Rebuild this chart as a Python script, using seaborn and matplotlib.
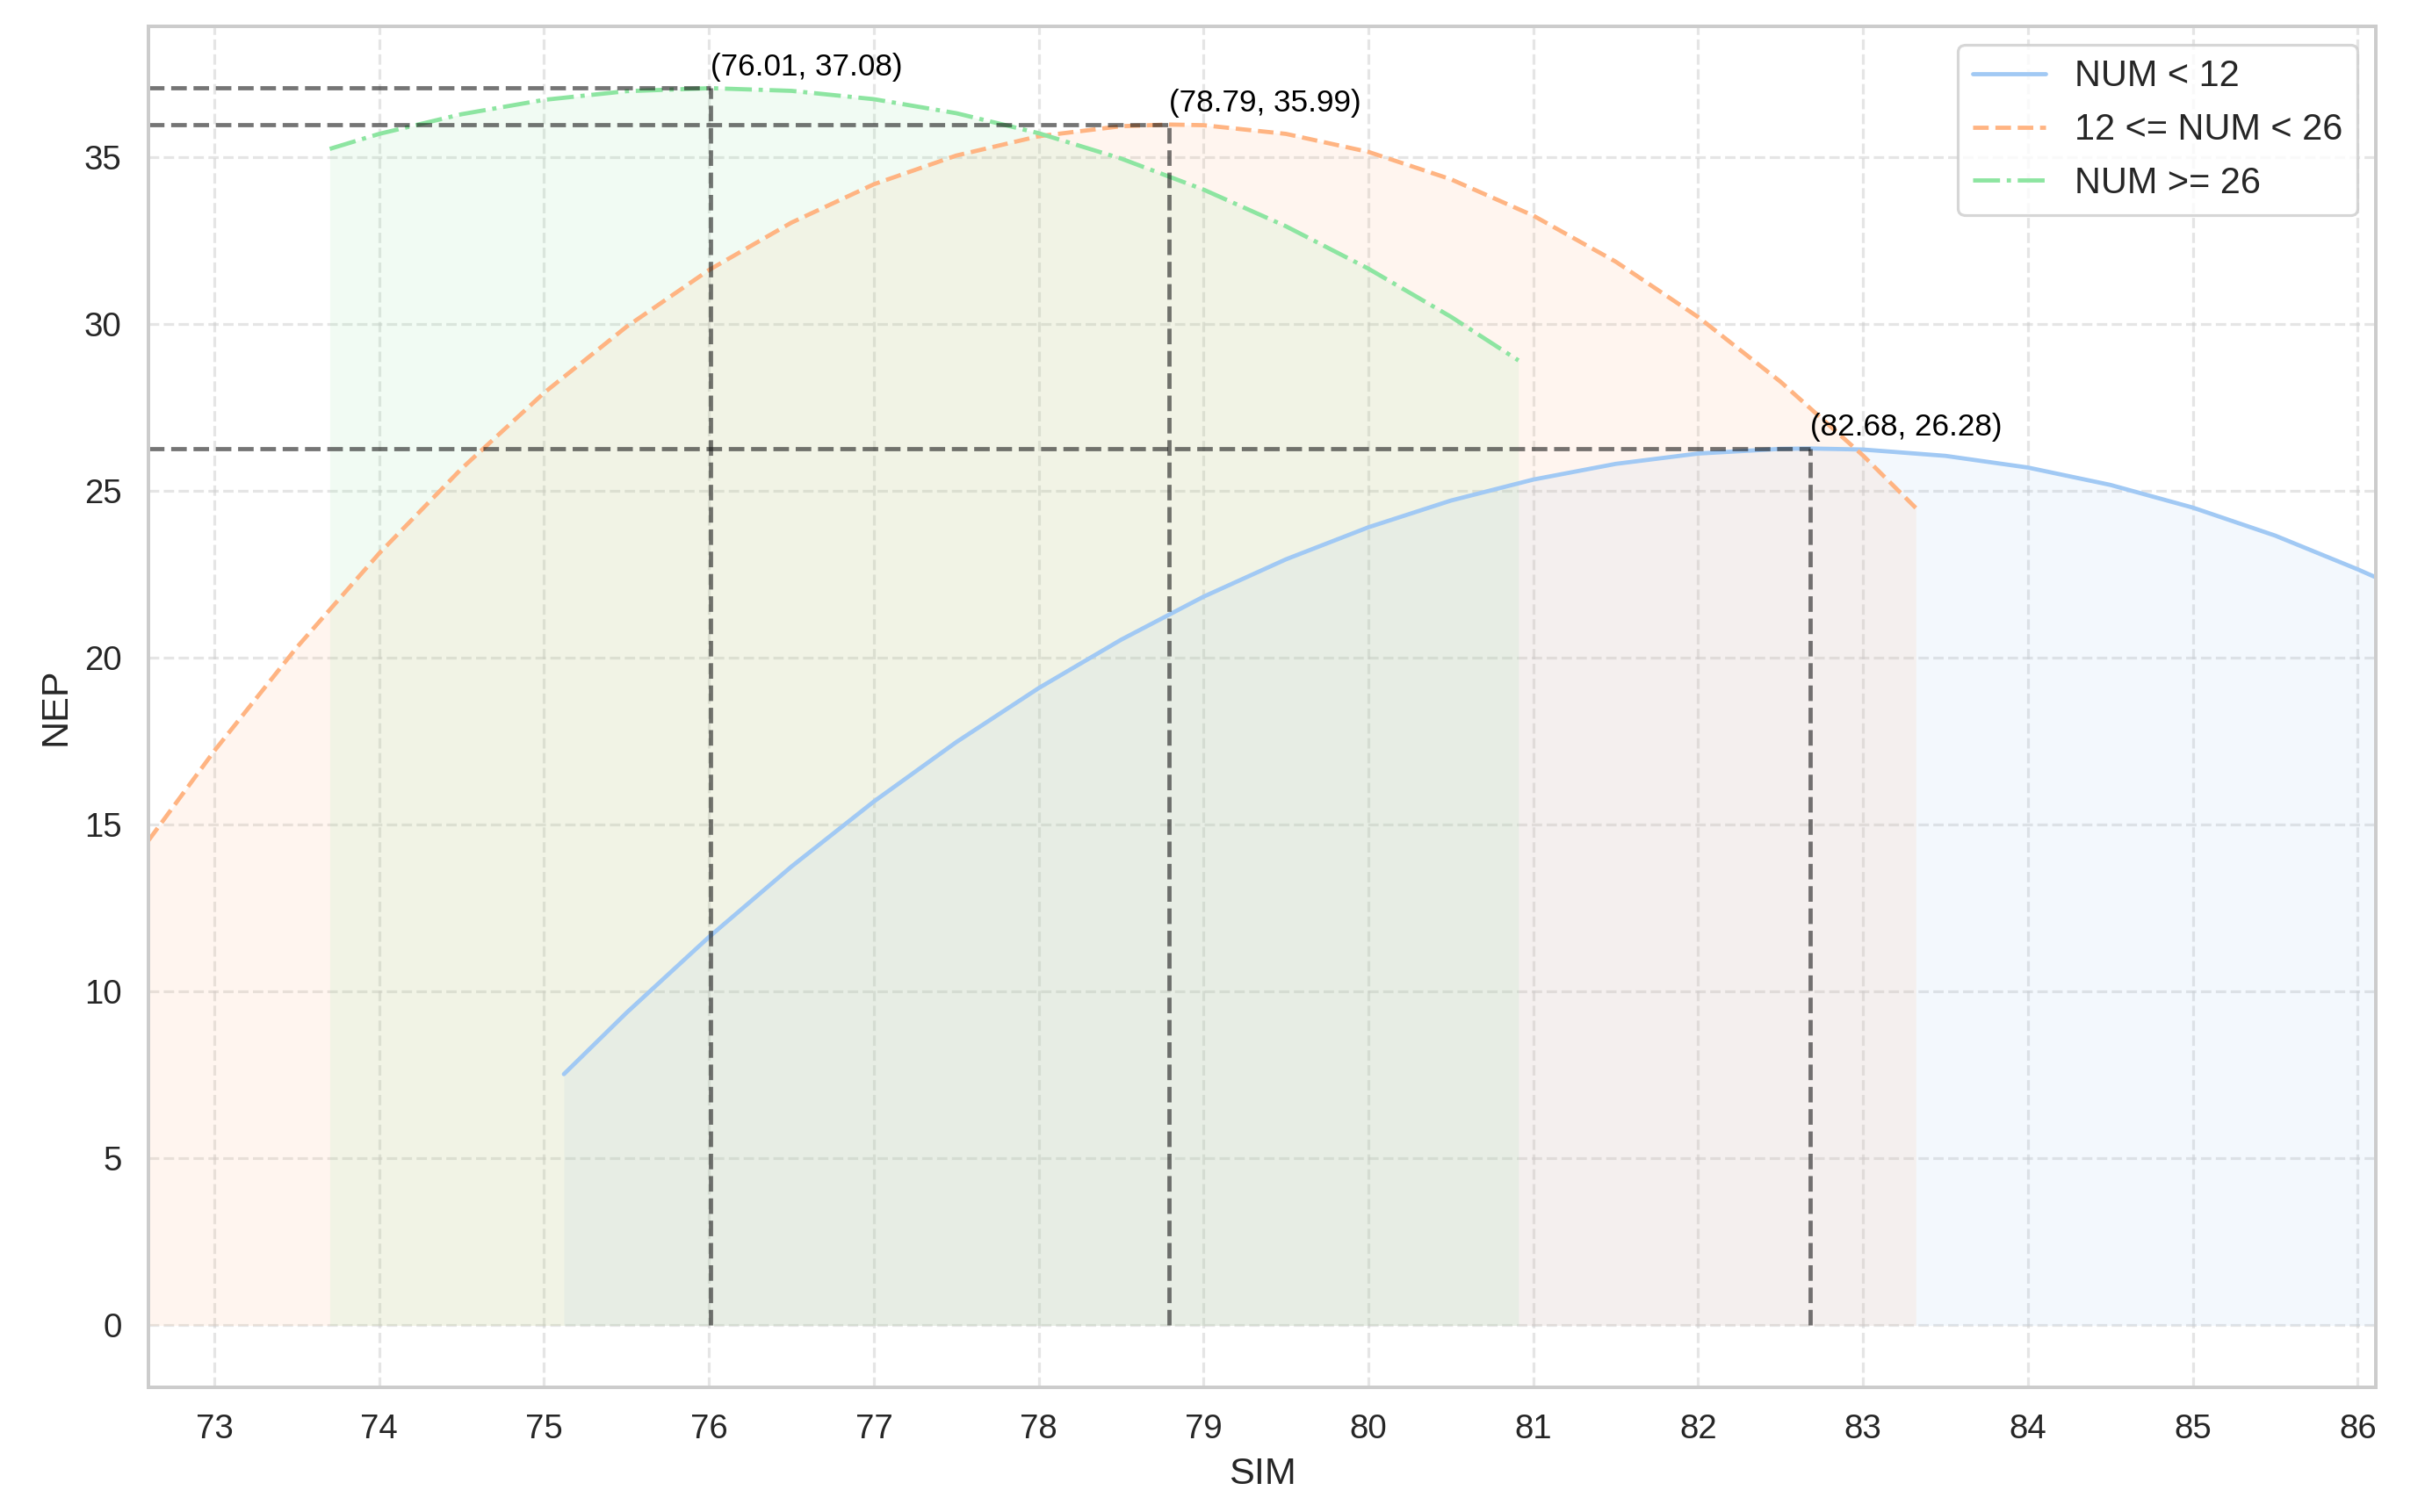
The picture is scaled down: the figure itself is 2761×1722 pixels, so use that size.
import numpy as np
import pandas as pd
import matplotlib
matplotlib.use("Agg")
import matplotlib.pyplot as plt
from matplotlib.ticker import MultipleLocator
import seaborn as sns

# ---- data ----
labels = ["NUM < 12", "12 <= NUM < 26", "NUM >= 26"]

sim_low = [75.12, 75.5, 76, 76.5, 77, 77.5, 78, 78.5, 79, 79.5, 80, 80.5, 81, 81.5,
           82, 82.5, 82.68, 83, 83.5, 84, 84.5, 85, 85.5, 86, 86.11]
nep_low = [7.53, 9.37, 11.64, 13.75, 15.70, 17.48, 19.10, 20.55, 21.84, 22.96, 23.92,
           24.72, 25.35, 25.82, 26.13, 26.27, 26.28, 26.25, 26.06, 25.71, 25.19, 24.51,
           23.67, 22.66, 22.42]

sim_mid = [72.6, 73, 73.5, 74, 74.5, 75, 75.5, 76, 76.5, 77, 77.5, 78, 78.5, 78.79,
           79, 79.5, 80, 80.5, 81, 81.5, 82, 82.5, 83, 83.32]
nep_mid = [14.53, 17.22, 20.32, 23.14, 25.68, 27.95, 29.93, 31.63, 33.05, 34.20, 35.06,
           35.64, 35.94, 35.99, 35.97, 35.71, 35.17, 34.35, 33.26, 31.88, 30.22, 28.28,
           26.07, 24.50]

sim_high = [73.7, 74, 74.5, 75, 75.5, 76.01, 76.5, 77, 77.5, 78, 78.5, 79, 79.5, 80,
            80.5, 80.91]
nep_high = [35.26, 35.71, 36.30, 36.73, 36.99, 37.08, 37.00, 36.75, 36.33, 35.73, 34.97,
            34.04, 32.94, 31.67, 30.23, 28.92]

peak_x = [82.68, 78.79, 76.01]
peak_y = [26.28, 35.99, 37.08]

# ---- style ----
sns.set_theme(style="whitegrid", context="notebook")
plt.rcParams["font.family"] = ["Liberation Sans", "DejaVu Sans"]

colors = sns.color_palette("pastel")[:3]
styles = ["-", "--", "-."]

fig, ax = plt.subplots(figsize=(2761 / 230, 1722 / 230), dpi=230)
fig.subplots_adjust(left=0.0612, right=0.9797, top=0.9826, bottom=0.0825)

series = [(sim_low, nep_low), (sim_mid, nep_mid), (sim_high, nep_high)]
for (xs, ys), lab, col, ls in zip(series, labels, colors, styles):
    df = pd.DataFrame({"SIM": xs, "NEP": ys})
    sns.lineplot(data=df, x="SIM", y="NEP", ax=ax, color=col, linestyle=ls,
                 linewidth=1.5, label=lab, sort=True)
    ax.fill_between(df["SIM"], df["NEP"], 0, color=col, alpha=0.12, linewidth=0)

xmin = min(min(sim_low), min(sim_mid), min(sim_high))
xmax = max(max(sim_low), max(sim_mid), max(sim_high))
ax.set_xlim(xmin, xmax)

for px, py in zip(peak_x, peak_y):
    ax.vlines(px, 0, py, colors="k", linestyles="--", linewidth=1.5, alpha=0.6)
    ax.hlines(py, xmin, px, colors="k", linestyles="--", linewidth=1.5, alpha=0.6)
    ax.text(px, py + 0.2, f"({px:.2f}, {py:.2f})", ha="left", va="bottom",
            fontsize=11, color="black")

ax.xaxis.set_major_locator(MultipleLocator(1))
ax.yaxis.set_major_locator(MultipleLocator(5))
ax.grid(True, linestyle="--", alpha=0.5, linewidth=1.0)
ax.set_xlabel("SIM", fontsize=13.5)
ax.set_ylabel("NEP", fontsize=13.5)
ax.tick_params(labelsize=12)
ax.legend(loc="upper right", fontsize=13)

fig.savefig("out.png", dpi=230)
